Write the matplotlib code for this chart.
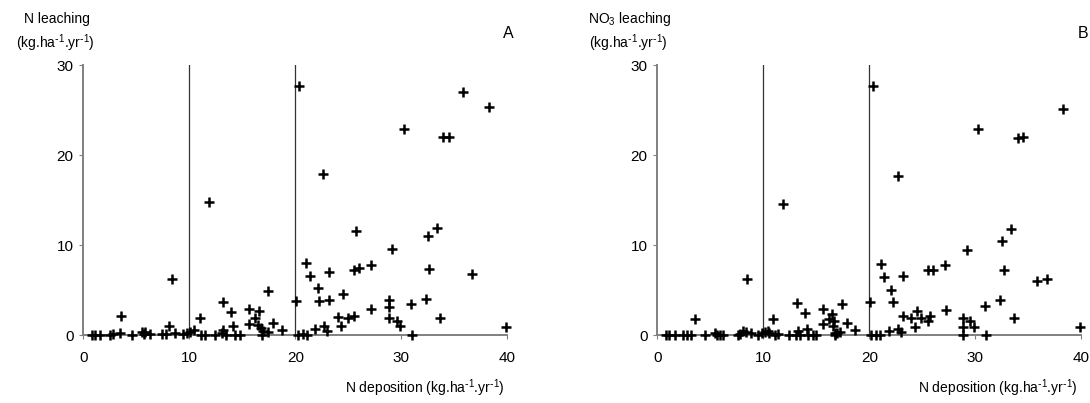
import matplotlib
matplotlib.use("Agg")
import matplotlib.pyplot as plt

plt.rcParams['font.family'] = ['Liberation Sans', 'DejaVu Sans']
plt.rcParams['mathtext.default'] = 'regular'

# Panel A: total N leaching vs N deposition
dep_a = [20.36, 22.66, 30.3, 33.9, 34.5, 35.8, 38.3, 11.9,
         25.7, 33.4, 32.5, 29.15, 21.05, 21.4, 23.2, 25.5, 26.0, 27.1, 32.6, 36.7,
         8.4, 22.1, 17.4, 24.5, 22.2, 23.2, 20.05, 13.2, 28.85, 28.85, 32.3, 30.9,
         27.1, 13.9, 15.6, 16.6, 16.2, 11.0, 3.6, 24.0, 24.95, 25.5, 28.85, 29.6,
         29.9, 33.65, 39.9, 15.6, 16.5, 16.8, 17.0, 17.9, 18.7, 14.15, 13.2, 8.1,
         21.9, 22.7, 22.95, 24.3, 31.0, 16.9, 17.45,
         0.8, 1.1, 1.6, 2.5, 2.8, 3.5, 4.6, 5.5, 5.7, 5.8, 6.3, 7.45, 7.8, 8.65,
         9.4, 9.75, 10.07, 10.4, 11.1, 11.5, 12.4, 13.1, 13.5, 14.3, 14.8,
         20.3, 20.75, 21.1]
leach_a = [27.7, 17.9, 22.9, 22.0, 22.1, 27.0, 25.4, 14.8,
           11.6, 11.95, 11.0, 9.6, 8.0, 6.6, 7.05, 7.3, 7.5, 7.8, 7.4, 6.8,
           6.3, 5.3, 4.95, 4.6, 3.85, 3.9, 3.8, 3.7, 3.9, 3.2, 4.1, 3.5,
           2.97, 2.6, 2.9, 2.7, 1.9, 1.9, 2.15, 2.1, 1.97, 2.2, 1.9, 1.65,
           1.1, 1.9, 0.9, 1.3, 1.15, 0.8, 0.5, 1.35, 0.6, 1.0, 0.6, 1.05,
           0.7, 1.05, 0.5, 1.0, 0.05, 0.1, 0.4,
           0.1, 0.1, 0.1, 0.1, 0.15, 0.3, 0.1, 0.4, 0.2, 0.4, 0.15, 0.15, 0.2, 0.3,
           0.2, 0.3, 0.4, 0.6, 0.1, 0.1, 0.1, 0.3, 0.1, 0.1, 0.1,
           0.1, 0.2, 0.1]

# Panel B: NO3 leaching vs N deposition
dep_b = [20.37, 22.74, 30.3, 34.0, 34.5, 38.3, 11.9,
         33.4, 32.55, 29.2, 21.07, 21.4, 23.15, 25.5, 26.0, 27.15, 32.7, 35.8, 36.75,
         8.45, 22.05, 22.2, 20.07, 13.2, 17.4, 30.9, 32.3, 27.2, 13.9, 15.65, 16.45,
         16.2, 16.7, 10.95, 3.55, 23.2, 23.9, 24.5, 24.9, 25.7, 25.5, 28.8, 29.5,
         29.9, 33.65, 39.9, 28.8, 28.8, 31.0, 24.3, 22.7, 22.95, 21.9, 18.65, 17.9,
         15.65, 16.6, 16.8, 17.0, 17.25, 16.75, 14.15, 13.25,
         0.8, 1.1, 1.7, 2.45, 2.8, 3.2, 4.5, 5.45, 5.6, 5.9, 6.2, 7.6, 7.85, 8.1,
         8.4, 8.8, 9.5, 9.85, 10.16, 10.4, 10.5, 11.1, 11.35, 12.4, 13.05, 13.45,
         14.25, 14.7, 14.95, 20.2, 20.6, 21.0]
leach_b = [27.7, 17.75, 22.9, 21.95, 22.1, 25.2, 14.6,
           11.8, 10.55, 9.45, 7.9, 6.5, 6.6, 7.3, 7.3, 7.8, 7.3, 6.05, 6.3,
           6.25, 5.0, 3.75, 3.7, 3.6, 3.5, 3.25, 3.9, 2.8, 2.5, 2.9, 2.4,
           1.8, 1.65, 1.8, 1.8, 2.2, 1.97, 2.75, 1.97, 2.15, 1.6, 1.9, 1.65,
           0.97, 1.9, 0.9, 0.97, 0.05, 0.05, 0.97, 0.7, 0.4, 0.45, 0.6, 1.35,
           1.27, 1.1, 0.3, 0.3, 0.4, 0.1, 0.7, 0.5,
           0.1, 0.1, 0.1, 0.1, 0.1, 0.1, 0.05, 0.3, 0.1, 0.1, 0.1, 0.1, 0.2, 0.55,
           0.4, 0.3, 0.1, 0.3, 0.4, 0.55, 0.3, 0.1, 0.2, 0.1, 0.1, 0.1,
           0.1, 0.1, 0.1, 0.05, 0.05, 0.05]

thresholds = [10, 20]
x_ticks = [0, 10, 20, 30, 40]
y_ticks = [0, 10, 20, 30]
unit = r'(kg.ha$^{\text{-}1}$.yr$^{\text{-}1}$)'

fig = plt.figure(figsize=(10.9, 4.03), dpi=100)
ax_a = fig.add_axes([0.0764, 0.1675, 0.389, 0.670])
ax_b = fig.add_axes([0.603, 0.1675, 0.389, 0.670])


def draw_panel(ax, x, y):
    for t in thresholds:
        ax.plot([t, t], [0, 30], color='#333333', lw=0.9, zorder=2)
    ax.plot(x, y, '+', color='black', ms=7, mew=1.8, clip_on=False, zorder=3)
    ax.set_xlim(0, 40)
    ax.set_ylim(0, 30)
    ax.set_xticks(x_ticks)
    ax.set_yticks(y_ticks)
    for s in ['top', 'right']:
        ax.spines[s].set_visible(False)
    for s in ['left', 'bottom']:
        ax.spines[s].set_color('#808080')
        ax.spines[s].set_linewidth(1.4)
    ax.tick_params(axis='x', direction='out', length=3, color='#808080',
                   labelsize=11, pad=8)
    ax.tick_params(axis='y', direction='out', length=3, color='#808080',
                   labelsize=11, pad=4)


draw_panel(ax_a, dep_a, leach_a)
draw_panel(ax_b, dep_b, leach_b)

fig.text(0.052, 0.953, 'N leaching', ha='center', va='center', fontsize=10)
fig.text(0.051, 0.893, unit, ha='center', va='center', fontsize=10)
fig.text(0.466, 0.918, 'A', ha='center', va='center', fontsize=11.5)
fig.text(0.463, 0.037, 'N deposition ' + unit, ha='right', va='center', fontsize=10)

fig.text(0.578, 0.953, 'NO$_3$ leaching', ha='center', va='center', fontsize=10)
fig.text(0.5765, 0.893, unit, ha='center', va='center', fontsize=10)
fig.text(0.994, 0.918, 'B', ha='center', va='center', fontsize=11.5)
fig.text(0.989, 0.037, 'N deposition ' + unit, ha='right', va='center', fontsize=10)

fig.savefig('out.png', dpi=100)
